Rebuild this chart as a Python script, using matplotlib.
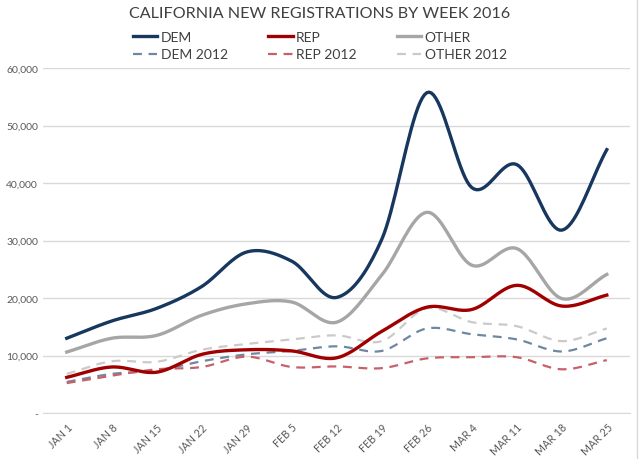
import numpy as np
import matplotlib.pyplot as plt
from matplotlib.lines import Line2D

plt.rcParams['font.family'] = ['Lato', 'DejaVu Sans']

weeks = ['JAN 1', 'JAN 8', 'JAN 15', 'JAN 22', 'JAN 29', 'FEB 5', 'FEB 12',
         'FEB 19', 'FEB 26', 'MAR 4', 'MAR 11', 'MAR 18', 'MAR 25']

dem = [13000, 16000, 18200, 22000, 28000, 26400, 20100, 30200, 55700, 39200, 43200, 31800, 45800]
rep = [6200, 8000, 7100, 10200, 11000, 10800, 9600, 14200, 18400, 18000, 22200, 18600, 20500]
other = [10600, 13000, 13500, 17000, 19000, 19300, 15800, 24000, 34900, 25700, 28600, 19900, 24100]
dem_2012 = [5400, 6800, 7400, 9000, 10200, 10800, 11600, 10800, 14700, 13700, 12800, 10700, 13000]
rep_2012 = [5200, 6500, 7600, 8000, 9800, 8000, 8100, 7800, 9500, 9700, 9700, 7600, 9200]
other_2012 = [6800, 9000, 8900, 11000, 12000, 12800, 13500, 12500, 18200, 15800, 15100, 12500, 14700]


def smooth(y, n=20):
    # Catmull-Rom curve through the points, like Excel's smoothed line
    y = np.asarray(y, dtype=float)
    p = np.concatenate([[2 * y[0] - y[1]], y, [2 * y[-1] - y[-2]]])
    xs, ys = [], []
    t = np.linspace(0, 1, n, endpoint=False)
    for i in range(1, len(p) - 2):
        p0, p1, p2, p3 = p[i - 1], p[i], p[i + 1], p[i + 2]
        v = 0.5 * ((2 * p1) + (-p0 + p2) * t + (2 * p0 - 5 * p1 + 4 * p2 - p3) * t ** 2
                   + (-p0 + 3 * p1 - 3 * p2 + p3) * t ** 3)
        xs.extend(i - 1 + t)
        ys.extend(v)
    xs.append(len(y) - 1)
    ys.append(y[-1])
    return np.array(xs), np.array(ys)


fig = plt.figure(figsize=(6.4, 4.6), dpi=100)
ax = fig.add_axes([0.067, 0.1, 0.917, 0.75])

series = [
    (dem, 'DEM', '#17375E', '-', 2.4),
    (dem_2012, 'DEM 2012', '#6F87A0', (0, (4, 3)), 1.6),
    (rep, 'REP', '#A00000', '-', 2.4),
    (rep_2012, 'REP 2012', '#C8606A', (0, (4, 3)), 1.6),
    (other, 'OTHER', '#A6A6A6', '-', 2.4),
    (other_2012, 'OTHER 2012', '#CACACA', (0, (4, 3)), 1.6),
]
# draw dashed first so solid lines sit on top
for vals, label, color, ls, lw in series[1::2] + series[0::2]:
    xs, ys = smooth(vals)
    ax.plot(xs, ys, color=color, linestyle=ls, linewidth=lw, label=label)

ax.set_xlim(-0.53, 12.51)
ax.set_ylim(0, 60000)
ax.set_yticks(range(0, 60001, 10000))
ax.set_yticklabels(['-'] + [f'{v:,}' for v in range(10000, 60001, 10000)])
ax.set_xticks(range(len(weeks)))
ax.set_xticklabels(weeks, rotation=45, ha='right', rotation_mode='anchor')
ax.tick_params(length=0, labelsize=7.5, colors='#595959')
ax.tick_params(axis='x', pad=6, labelsize=7.7)
ax.grid(True, axis='y', color='#D9D9D9', linewidth=1)
ax.set_axisbelow(True)
for s in ['top', 'right', 'left']:
    ax.spines[s].set_visible(False)
ax.spines['bottom'].set_color('#D9D9D9')

fig.suptitle('CALIFORNIA NEW REGISTRATIONS BY WEEK 2016', y=0.985, fontsize=11.6, color='#404040')

h, l = ax.get_legend_handles_labels()
order = ['DEM', 'DEM 2012', 'REP', 'REP 2012', 'OTHER', 'OTHER 2012']
hd = dict(zip(l, h))
fig.legend([hd[k] for k in order], order, ncol=3, loc='upper center',
           bbox_to_anchor=(0.5, 0.958), frameon=False, fontsize=10,
           handlelength=1.75, handletextpad=0.25, columnspacing=2.9,
           labelspacing=0.4, labelcolor='#404040')

# light frame line on the right edge of the chart
fig.add_artist(Line2D([0.996, 0.996], [0, 1], transform=fig.transFigure,
                      color='#D9D9D9', linewidth=1))

fig.savefig('out.png', dpi=100)
